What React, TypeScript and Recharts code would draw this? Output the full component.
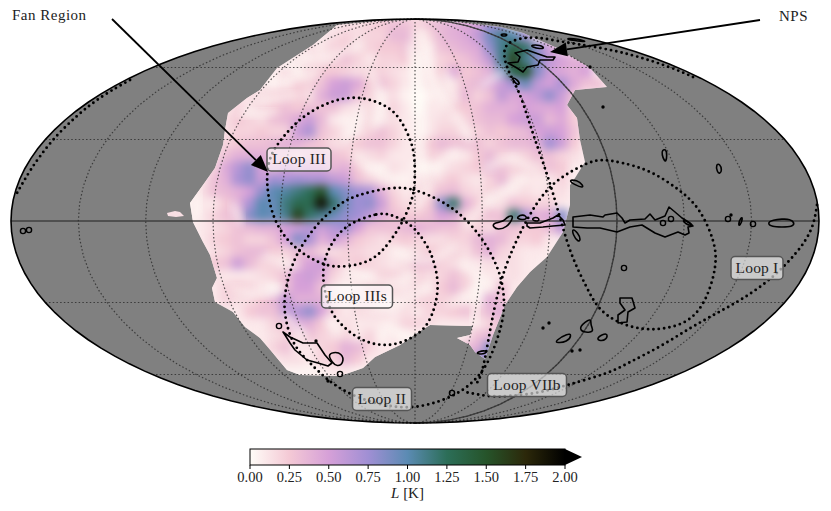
import React from "react";
import { Bar, BarChart, Curve, Label, Scatter, ScatterChart, XAxis, YAxis } from "recharts";

type Pair = number[];

const FONT = "'Liberation Serif', serif";

// map units: origin at the centre of the sky ellipse, 404 x 202 semi-axes
const SKY_RX = 404;
const SKY_RY = 202;
const HEAT_STEP = 12;

// colour map of L [K]
const cmapStops = [0, 0.25, 0.5, 0.75, 1, 1.25, 1.5, 1.75, 2];
const cmapColors = ["#fffdf8", "#f4c9d5", "#d6a0d8", "#a08fd4", "#5b8bb3", "#2c6e58", "#26542a", "#2c280a", "#000000"];
const barTicks = [0, 0.25, 0.5, 0.75, 1, 1.25, 1.5, 1.75, 2];

const meridianLons = [-150, -120, -90, -60, -30, 0, 30, 60, 90, 120, 150];
const parallelOffsets = [153.5, 81.5, -81.5, -153.5];

// outline of the surveyed part of the sky
const surveyOutline: Pair[] = [
  [0, 201], [42, 199], [85, 194], [108, 188], [142, 173], [175, 153], [192, 134], [160, 131], [152, 116], [162, 103],
  [165, 81], [170, 59], [160, 43], [155, 36], [155, 16], [148, -11], [132, -36], [115, -51], [102, -66], [90, -84],
  [78, -114], [70, -138], [60, -131], [55, -124], [42, -117], [55, -114], [58, -105], [15, -104], [2, -112], [-15, -124],
  [-40, -136], [-52, -147], [-75, -155], [-115, -154], [-128, -149], [-143, -131], [-155, -117], [-170, -106], [-182, -91],
  [-200, -81], [-203, -67], [-198, -57], [-205, -34], [-212, -21], [-222, -1], [-225, 18], [-212, 36], [-200, 53],
  [-192, 76], [-190, 91], [-187, 108], [-168, 123], [-155, 131], [-138, 153], [-102, 176], [-78, 196], [-35, 200],
];
const surveyIsland: Pair[] = [[-248, 8], [-240, 10], [-235, 9], [-231, 5], [-239, 4], [-247, 5]];

// polarized intensity, row by row
const heatRowY = [197, 185, 173, 161, 149, 137, 125, 113, 101, 89, 77, 65, 53, 41, 29, 17, 5, -7, -19, -31, -43, -55, -67, -79, -91, -103, -115, -127, -139, -151];
const heatRowX = [-69, -93, -105, -117, -129, -153, -165, -177, -189, -189, -189, -201, -201, -213, -225, -225, -225, -225, -213, -201, -201, -201, -201, -201, -177, -165, -153, -141, -141, -129];
const heatRows: number[][] = [
  [.15, .15, .2, .25, .3, .3, .2, .3, .35, .4, .45, .5, .75, .7],
  [.1, .15, .2, .15, .2, .2, .35, .35, .1, .2, .35, .4, .45, .6, .9, 1.1, 1, .7],
  [.15, .1, .2, .25, .15, .2, .25, .25, .3, .1, .1, .3, .35, .4, .45, .8, 1.1, 1.35, 1.2, .8, .5],
  [.15, .1, .1, .2, .3, .2, .1, .2, .2, .25, .05, .1, .2, .25, .3, .4, .6, 1.1, 1.6, 1.1, .85, .6, .5, .4, .4],
  [.15, .05, .2, .25, .25, .2, .15, .2, .2, .15, .1, .05, .1, .25, .45, .25, .3, .4, .9, 1.3, 1.5, .85, .55, .45, .4, .5],
  [.1, .05, .1, .25, .2, .3, .5, .55, .45, .25, .3, .2, .1, .05, .1, .15, .15, .3, .35, .45, .55, .75, .95, .6, .5, .7, .45, .3, .3],
  [.15, .15, .2, .25, .2, .15, .4, .55, .55, .3, .2, .1, .15, .05, 0, .05, .1, .2, .35, .2, .3, .6, .45, .5, .6, .8, .55, .3],
  [.2, .1, .2, .25, .3, .25, .3, .3, .3, .15, .1, .15, .1, .2, .1, 0, .1, .1, .25, .25, .3, .4, .4, .4, .5, .45, .45, .5, .2],
  [.15, .25, .2, .15, .3, .35, .45, .55, .35, .1, .05, .1, .15, .1, .15, .1, .05, .1, .15, .15, .2, .3, .35, .35, .5, .55, .55, .35, .45, .25],
  [.15, .2, .2, .25, .2, .2, .55, .7, .3, .2, .1, .1, .2, .3, .2, .1, .05, .1, .2, .2, .15, .2, .3, .25, .3, .35, .5, .55, .5, .3],
  [.2, .25, .3, .3, .35, .4, .4, .3, .25, .15, .15, .25, .3, .3, .2, .1, .1, .25, .35, .3, .3, .3, .2, .3, .35, .35, .4, .75, .55, .25],
  [.15, .3, .4, .4, .4, .3, .3, .2, .3, .35, .3, .25, .1, .15, .2, .1, .1, .1, .2, .2, .1, .1, .25, .35, .2, .15, .2, .3, .3, .2, .15],
  [.2, .45, .65, .8, .5, .35, .5, .4, .45, .45, .35, .4, .25, .1, .05, .15, .1, .05, .05, .1, .15, .2, .25, .35, .3, .2, .2, .15, .3, .25],
  [.1, .3, .4, .7, .8, .55, .75, .7, .75, .7, .7, .6, .55, .3, .2, .15, .05, .05, .1, .2, .2, .25, .15, .1, .2, .35, .15, .1, .1, .1, .2],
  [.05, .15, .3, .35, .4, .5, .8, 1, 1.05, 1.15, 1.25, 1.5, 1, .85, .75, .7, .4, .2, .1, .15, .2, .3, .35, .2, .15, .2, .15, .1, .15, .1, .15, .15],
  [.05, .1, .1, .25, .4, .7, 1, .95, 1.15, 1.3, 1.3, 1.9, 1.2, .9, .75, .8, .55, .25, .15, .2, .25, .8, 1.2, .4, .25, .15, .15, .3, .25, .2, .2, .1],
  [.05, .1, .2, .3, .35, .85, 1, .95, 1.1, 1.6, 1.2, 1.1, .95, .8, .75, .6, .4, .3, .25, .25, .3, .5, .45, .2, .2, .3, .3, 1.2, .7, .4, .45, .85],
  [.05, .1, .15, .2, .3, .35, .4, .4, .5, .55, .65, .55, .65, .75, .5, .3, .3, .3, .35, .4, .35, .3, .3, .2, .2, .15, .3, .3, .25, .25, .35, .6],
  [.1, .2, .25, .3, .2, .2, .3, .5, .85, .7, .4, .55, .4, .25, .2, .15, .2, .25, .2, .15, .15, .2, .2, .35, .4, .35, .2, .2, .25, .1],
  [.15, .2, .3, .35, .35, .25, .2, .3, .35, .2, .15, .2, .2, .15, .15, .1, .1, .15, .25, .2, .2, .15, .3, .4, .2, .15, .1, .1],
  [.25, .3, .55, .35, .2, .2, .15, .35, .5, .55, .3, .2, .25, .2, .15, .1, .15, .3, .3, .2, .15, .1, .1, .15, .15, .15, .1],
  [.15, .1, .1, .1, .15, .2, .3, .5, .55, .45, .2, .1, .1, .1, .2, .2, .15, .2, .15, .2, .3, .2, .1, .1, .1, .15, .1],
  [.1, .2, .25, .2, .1, .05, .3, .5, .5, .3, .1, .05, .1, .2, .25, .15, .1, .15, .1, .25, .35, .2, .05, .1, .3, .1],
  [.1, .2, .15, .15, .25, .35, .6, .4, .4, .4, .15, .1, .15, .15, .1, .1, .15, .2, .2, .2, .2, .1, .05, .4, .3],
  [.1, .25, .3, .3, .6, .65, .8, .5, .2, .1, .15, .2, .15, .1, .15, .1, .2, .2, .25, .3, .2, .35, .4],
  [.1, .1, .2, .3, .45, .4, .25, .1, .15, .1, .1, .1, .1, .2, .2, .15, .1, .1, .1, .1, .2, .3, .3],
  [.1, .15, .2, .15, .3, .2, .15, .2, .1, .2, .05, .1, .05, .05, .05, .05, .05, .1, .3, .35],
  [.2, .3, .1, .1, .2, .25, .4, .35, .2, .1, .1, .1, .1, .1, .1, .1, .3, .4, .85],
  [.1, .15, .15, .1, .2, .2, .35, .25, .1, .1, .1, .1, .1, .1, .1, .1, .3, .8, .7],
  [.05, .05, .05, .05, .1, .1, .05],
];

// thin low-intensity filaments running through the pink
const coldFilaments: Pair[][] = [
  [[8, 189], [15, 139], [42, 106], [55, 81]],
  [[-132, 156], [-108, 164]],
  [[-88, 163], [-55, 176]],
  [[-128, 139], [-98, 149]],
  [[-155, 119], [-122, 126]],
  [[-55, 106], [-68, 83]],
  [[68, 136], [88, 149]],
  [[-55, 59], [-28, 43]],
  [[-182, 16], [-175, -1]],
  [[-182, -67], [-148, -77], [-135, -67]],
  [[-88, -97], [-75, -111]],
  [[-48, -91], [-15, -84], [12, -67]],
  [[-68, -47], [-28, -67], [-2, -54]],
  [[72, 53], [95, 66], [115, 53]],
  [[42, 69], [18, 56], [22, 43]],
  [[75, 19], [108, 43]],
  [[52, -4], [75, 26]],
  [[2, 13], [15, 36]],
  [[35, -84], [65, -67]],
  [[48, -44], [75, -64]],
  [[58, -101], [62, -84]],
  [[-5, 175], [2, 140], [8, 105], [5, 70], [12, 40]],
  [[-45, 150], [-30, 120], [-40, 95]],
  [[-215, 35], [-218, 5]],
  [[-175, 105], [-140, 110]],
  [[30, 150], [40, 120]],
  [[-150, -35], [-120, -45]],
  [[-20, -30], [10, -45], [40, -25]],
  [[-130, -95], [-110, -115]],
  [[-30, -105], [-10, -115]],
];

// black contours
const contours: Pair[][] = [
  [[100, 168], [112, 171], [132, 164], [140, 164], [138, 161], [125, 161], [123, 156], [112, 154], [108, 149], [102, 153], [93, 158], [103, 159], [105, 164]],
  [[116, 176], [125, 176], [130, 173], [125, 172], [117, 174]],
  [[86, 187], [92, 187], [92, 185], [86, 185]],
  [[152, 183], [163, 182], [173, 179], [163, 180], [153, 181]],
  [[97, 144], [103, 141], [105, 136], [101, 137], [98, 141]],
  [[78, -2], [88, -1], [92, 4], [98, 6], [97, 1], [92, -6], [83, -9], [78, -6]],
  [[102, 4], [108, 7], [113, 3], [108, 1], [103, 2]],
  [[117, 3], [123, 4], [125, 0], [118, 0]],
  [[112, -2], [125, -2], [138, 3], [143, 6], [148, 1], [150, -4], [138, -5], [128, -6], [115, -7], [112, -5]],
  [[153, 41], [162, 41], [168, 36], [168, 33], [160, 36]],
  [[157, -7], [163, -12], [166, -19], [163, -21], [158, -14]],
  [[158, 4], [175, 6], [188, 4], [190, 6], [202, 8], [207, 3], [210, -2], [215, 1], [230, 2], [235, 7], [240, 1], [250, 5], [254, 14], [260, 9], [267, 3], [275, -2], [278, -5], [273, -6], [274, -12], [270, -14], [263, -11], [250, -16], [240, -12], [227, -4], [215, -6], [202, -11], [185, -7], [172, -7], [158, -6], [158, -1]],
  [[267, 2], [275, -2], [278, -5], [270, -3]],
  [[326, 4], [328, 3], [325, -5], [323, -4]],
  [[352, -2], [358, 1], [367, 2], [375, 2], [380, -2], [377, -6], [367, -6], [357, -6]],
  [[247, 71], [251, 72], [252, 66], [251, 59], [249, 61], [247, 66]],
  [[301, 57], [305, 57], [307, 51], [305, 47], [302, 49]],
  [[205, -77], [217, -77], [220, -87], [213, -91], [212, -101], [203, -102], [203, -94], [210, -89], [205, -82]],
  [[163, -106], [177, -96], [175, -104], [180, -111], [168, -112]],
  [[182, -116], [193, -111], [192, -119], [183, -120]],
  [[140, -120], [153, -112], [157, -114], [152, -121], [142, -122]],
  [[62, -131], [72, -129], [71, -133], [62, -133]],
  [[-132, -111], [-125, -116], [-112, -122], [-98, -122], [-90, -134], [-83, -142], [-87, -145], [-97, -142], [-108, -139], [-120, -129], [-125, -122], [-130, -114]],
  [[-87, -134], [-82, -131], [-73, -132], [-71, -142], [-78, -146], [-83, -141]],
];
const contourRings: Pair[] = [[248, -2], [256, 2], [313, 2], [338, -3], [209, -47], [-136, -105], [-75, -153], [37, -172], [-392, -10], [-386, -9]];
const contourDots: Pair[] = [[316, 6], [175, 154], [188, 114], [-99, -120], [134, -102], [128, -107], [165, -129], [157, -130], [-87, -160]];

// dotted loops
const loopIII: Pair[] = [[-58, 126], [-88, 119], [-115, 103], [-133, 83], [-145, 66], [-148, 48], [-148, 36], [-145, 13], [-135, -11], [-118, -29], [-100, -40], [-82, -47], [-55, -44], [-38, -36], [-25, -21], [-12, -1], [-3, 21], [0, 34], [0, 66], [-5, 83], [-15, 103], [-28, 116]];
const loopIIIs: Pair[] = [[-25, 7], [-38, 8], [-65, -2], [-78, -14], [-87, -29], [-92, -44], [-92, -64], [-85, -91], [-72, -106], [-55, -119], [-35, -125], [-15, -123], [2, -114], [13, -104], [21, -84], [24, -61], [18, -37], [12, -24], [0, -7], [-12, 1]];
const loopII: Pair[] = [[-25, 34], [-2, 33], [25, 21], [45, 8], [65, -14], [77, -34], [87, -57], [90, -84], [87, -104], [78, -131], [68, -151], [50, -169], [25, -181], [-5, -188], [-35, -184], [-65, -174], [-88, -159], [-105, -142], [-118, -129], [-127, -111], [-132, -84], [-128, -61], [-120, -34], [-98, -2], [-75, 18], [-58, 26]];
const loopI: Pair[] = [[278, 144], [258, 153], [222, 165], [192, 172], [162, 177], [142, 180], [122, 184], [105, 183], [92, 178], [88, 169], [92, 151], [103, 133], [113, 103], [120, 81], [130, 53], [138, 28], [147, -4], [157, -37], [172, -67], [182, -87], [202, -102], [228, -109], [250, -108], [275, -101], [292, -79], [302, -44], [300, -21], [285, 13], [265, 31], [235, 51], [205, 59], [185, 62], [172, 58], [155, 49], [135, 36], [115, 9], [92, -39], [82, -74], [75, -109], [67, -156], [60, -164]];
const loopVIIb: Pair[] = [[402, 16], [398, -9], [382, -32], [358, -57], [328, -78], [302, -92], [275, -107], [245, -126], [215, -141], [195, -152], [152, -164], [125, -172], [95, -175], [75, -176], [50, -171]];
const loopRim: Pair[] = [[-285, 141], [-312, 126], [-338, 106], [-365, 79], [-385, 51], [-398, 28]];

const loopLabels = [
  { x: -116, y: 61.5, text: "Loop III", w: 64 },
  { x: -58, y: -75.5, text: "Loop IIIs", w: 71 },
  { x: -33, y: -178, text: "Loop II", w: 59 },
  { x: 112, y: -164, text: "Loop VIIb", w: 79 },
  { x: 342, y: -47, text: "Loop I", w: 52 },
];
const regionLabels = [
  { x: -403, y: 206, text: "Fan Region" },
  { x: 364, y: 205, text: "NPS" },
];
const fanArrow: Pair[] = [[-303, 202], [-147, 49]];
const npsArrow: Pair[] = [[345, 201], [135, 169]];

const toPoints = (list: Pair[]) => list.map(([x, y]) => ({ x, y }));

function cmap(v: number) {
  let i = 0;
  while (i < cmapStops.length - 2 && v > cmapStops[i + 1]) i++;
  const t = Math.min(1, Math.max(0, (v - cmapStops[i]) / (cmapStops[i + 1] - cmapStops[i])));
  const hex = (c: string, k: number) => parseInt(c.slice(k, k + 2), 16);
  const mix = (k: number) => Math.round(hex(cmapColors[i], k) * (1 - t) + hex(cmapColors[i + 1], k) * t);
  return `rgb(${mix(1)},${mix(3)},${mix(5)})`;
}

const heatCells = heatRows.flatMap((row, r) =>
  row.map((L, c) => ({ x: heatRowX[r] + c * HEAT_STEP, y: heatRowY[r], L })),
);

// frame geometry, same job as an axis: the ellipse, meridians and parallels
const skyFrame = Array.from({ length: 120 }, (_, i) => {
  const t = (i * Math.PI) / 60;
  return { x: SKY_RX * Math.cos(t), y: SKY_RY * Math.sin(t) };
});
const meridian = (lon: number) =>
  Array.from({ length: 37 }, (_, i) => {
    const t = ((i - 18) * Math.PI) / 36;
    return { x: (lon / 180) * SKY_RX * Math.cos(t), y: SKY_RY * Math.sin(t) };
  });
const parallel = (y: number) => {
  const half = SKY_RX * Math.sqrt(1 - (y / SKY_RY) ** 2);
  return [{ x: -half, y }, { x: half, y }];
};

const NoDot = () => <g />;

const filled = (fill: string) => (props: any) => (
  <Curve points={props.points} type="linearClosed" fill={fill} stroke="none" />
);

const outlineLine = (props: any) => (
  <Curve points={props.points} type="linearClosed" fill="none" stroke="#000" strokeWidth={1.6} />
);

const maskLine = (props: any) => (
  <g>
    <clipPath id="skyMask">
      <Curve points={props.points} type="linearClosed" />
    </clipPath>
    <Curve points={props.points} type="linearClosed" fill="#fcedee" stroke="none" />
  </g>
);

const arrowLine = (props: any) => {
  const [a, b] = props.points;
  const dx = b.x - a.x;
  const dy = b.y - a.y;
  const n = Math.hypot(dx, dy);
  const ux = dx / n;
  const uy = dy / n;
  const bx = b.x - ux * 17;
  const by = b.y - uy * 17;
  const head = `${b.x},${b.y} ${bx - uy * 7},${by + ux * 7} ${bx + uy * 7},${by - ux * 7}`;
  return (
    <g>
      <line x1={a.x} y1={a.y} x2={bx} y2={by} stroke="#000" strokeWidth={1.8} />
      <polygon points={head} fill="#000" />
    </g>
  );
};

const HeatCell = (props: any) => (
  <rect
    x={props.cx - HEAT_STEP / 2 - 0.5}
    y={props.cy - HEAT_STEP / 2 - 0.5}
    width={HEAT_STEP + 1}
    height={HEAT_STEP + 1}
    fill={cmap(props.payload.L)}
  />
);

const Ring = (props: any) => <circle cx={props.cx} cy={props.cy} r={2.6} fill="none" stroke="#000" strokeWidth={1.4} />;
const Dot = (props: any) => <circle cx={props.cx} cy={props.cy} r={1.7} fill="#000" />;

const LoopTag = (props: any) => {
  const { text, w } = props.payload;
  return (
    <g>
      <rect x={props.cx - w / 2} y={props.cy - 11.5} width={w} height={23} rx={4} fill="rgba(255,255,255,0.58)" stroke="#555" strokeWidth={1.5} />
      <text x={props.cx} y={props.cy + 4.5} textAnchor="middle" fontFamily={FONT} fontSize={15.5} letterSpacing={0.2} fill="#222">
        {text}
      </text>
    </g>
  );
};

const RegionTag = (props: any) => (
  <text x={props.cx} y={props.cy + 4.5} fontFamily={FONT} fontSize={15} letterSpacing={0.5} fill="#222">
    {props.payload.text}
  </text>
);

const dottedLoop = { stroke: "#000", strokeWidth: 2.9, strokeDasharray: "0 5.4", strokeLinecap: "round" as const };
const gridLine = { stroke: "rgba(40,40,40,0.78)", strokeWidth: 1.2, strokeDasharray: "1.5 2.2" };
const solidGrid = { stroke: "rgba(50,50,50,0.85)", strokeWidth: 1.4 };
const filamentLine = { stroke: "rgba(255,253,248,0.7)", strokeWidth: 6, strokeLinecap: "round" as const };

const barData = [{ name: "L", hi: 2 }];

const BarShape = (props: any) => {
  const { x, y, width, height } = props;
  return (
    <g>
      <rect x={x} y={y} width={width} height={height} fill="url(#barFill)" stroke="#000" strokeWidth={1} />
      <polygon points={`${x + width},${y} ${x + width + 17},${y + height / 2} ${x + width},${y + height}`} fill="#000" />
    </g>
  );
};

const BarLabel = (props: any) => {
  const { x, width, y } = props.viewBox;
  return (
    <text x={x + width / 2} y={y + 33} textAnchor="middle" fontFamily={FONT} fontSize={15} fill="#222">
      <tspan fontStyle="italic">L</tspan> [K]
    </text>
  );
};

export default function App() {
  return (
    <div style={{ position: "absolute", left: 0, top: 0, width: 831, height: 511 }}>
      <style>{`.heat-cells{filter:url(#heatBlur);clip-path:url(#skyMask)}.heat-fine{filter:url(#fineBlur);clip-path:url(#skyMask)}`}</style>
      <ScatterChart width={831} height={511} margin={{ top: 0, right: 0, bottom: 0, left: 0 }}>
        <defs>
          <filter id="heatBlur" x="-5%" y="-5%" width="110%" height="110%" colorInterpolationFilters="sRGB">
            <feGaussianBlur stdDeviation={4.2} />
          </filter>
          <filter id="fineBlur" x="-80%" y="-80%" width="260%" height="260%" colorInterpolationFilters="sRGB">
            <feGaussianBlur stdDeviation={3} />
          </filter>
        </defs>
        <XAxis type="number" dataKey="x" domain={[-415, 416]} hide />
        <YAxis type="number" dataKey="y" domain={[-290, 221]} hide />

        <Scatter data={skyFrame} shape={NoDot} line={filled("#808080")} isAnimationActive={false} />
        <Scatter data={toPoints(surveyOutline)} shape={NoDot} line={maskLine} isAnimationActive={false} />
        <Scatter data={toPoints(surveyIsland)} shape={NoDot} line={filled("#f8dfe4")} isAnimationActive={false} />
        <Scatter className="heat-cells" data={heatCells} shape={HeatCell} isAnimationActive={false} />
        {coldFilaments.map((f, i) => (
          <Scatter key={`f${i}`} className="heat-fine" data={toPoints(f)} shape={NoDot} line={filamentLine} lineJointType="basis" isAnimationActive={false} />
        ))}

        {meridianLons.map((lon) => (
          <Scatter key={`m${lon}`} data={meridian(lon)} shape={NoDot} line={gridLine} isAnimationActive={false} />
        ))}
        {parallelOffsets.map((y) => (
          <Scatter key={`p${y}`} data={parallel(y)} shape={NoDot} line={gridLine} isAnimationActive={false} />
        ))}
        <Scatter data={parallel(0)} shape={NoDot} line={solidGrid} isAnimationActive={false} />
        <Scatter data={meridian(90)} shape={NoDot} line={solidGrid} isAnimationActive={false} />

        {contours.map((c, i) => (
          <Scatter
            key={`c${i}`}
            data={toPoints(c)}
            shape={NoDot}
            line={{ stroke: "#000", strokeWidth: 1.6, strokeLinejoin: "round" }}
            lineJointType={c.length > 8 ? "linearClosed" : "basisClosed"}
            isAnimationActive={false}
          />
        ))}
        <Scatter data={toPoints(contourRings)} shape={Ring} isAnimationActive={false} />
        <Scatter data={toPoints(contourDots)} shape={Dot} isAnimationActive={false} />

        {[loopIII, loopIIIs, loopII].map((loop, i) => (
          <Scatter key={`l${i}`} data={toPoints(loop)} shape={NoDot} line={dottedLoop} lineJointType="basisClosed" isAnimationActive={false} />
        ))}
        {[loopI, loopVIIb, loopRim].map((loop, i) => (
          <Scatter key={`o${i}`} data={toPoints(loop)} shape={NoDot} line={dottedLoop} lineJointType="basis" isAnimationActive={false} />
        ))}

        <Scatter data={skyFrame} shape={NoDot} line={outlineLine} isAnimationActive={false} />
        <Scatter data={toPoints(fanArrow)} shape={NoDot} line={arrowLine} isAnimationActive={false} />
        <Scatter data={toPoints(npsArrow)} shape={NoDot} line={arrowLine} isAnimationActive={false} />
        <Scatter data={loopLabels} shape={LoopTag} isAnimationActive={false} />
        <Scatter data={regionLabels} shape={RegionTag} isAnimationActive={false} />
      </ScatterChart>

      <div style={{ position: "absolute", left: 220, top: 440 }}>
        <BarChart width={380} height={65} layout="vertical" data={barData} barCategoryGap={0} margin={{ top: 9, right: 35, bottom: 0, left: 30 }}>
          <defs>
            <linearGradient id="barFill" x1="0" y1="0" x2="1" y2="0">
              {cmapStops.map((s, i) => (
                <stop key={s} offset={s / 2} stopColor={cmapColors[i]} />
              ))}
            </linearGradient>
          </defs>
          <XAxis
            type="number"
            domain={[0, 2]}
            ticks={barTicks}
            interval={0}
            height={40}
            tickSize={4}
            tickMargin={3}
            axisLine={false}
            tickLine={{ stroke: "#000" }}
            tick={{ fontSize: 14.5, fontFamily: FONT, fill: "#222" }}
            tickFormatter={(v: number) => v.toFixed(2)}
          >
            <Label content={BarLabel} />
          </XAxis>
          <YAxis type="category" dataKey="name" hide />
          <Bar dataKey="hi" shape={BarShape} isAnimationActive={false} />
        </BarChart>
      </div>
    </div>
  );
}
